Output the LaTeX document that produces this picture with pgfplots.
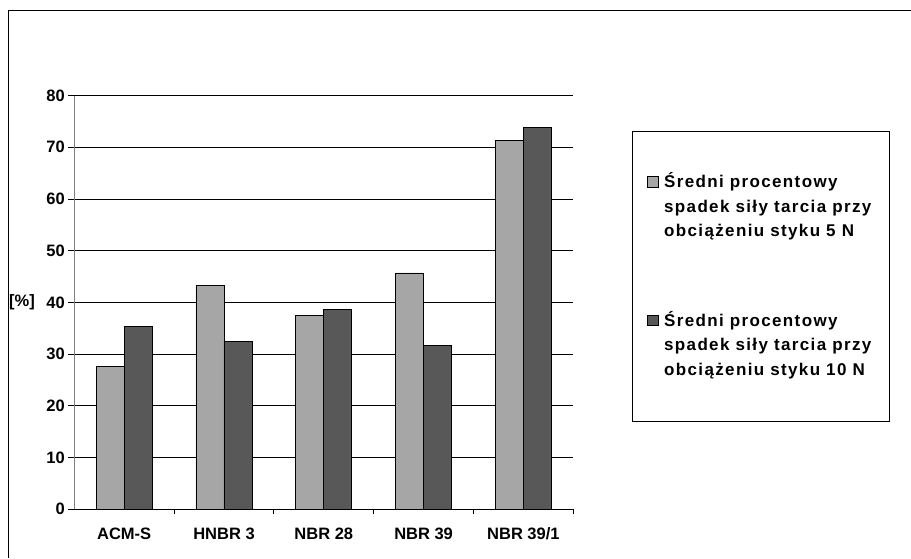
\documentclass[border=0pt]{standalone}
\usepackage{pgfplots}
\pgfplotsset{compat=1.18}
\usepackage{fontspec}
\setmainfont{Liberation Sans}
\newfontfamily\legendfont[LetterSpace=8.0]{Liberation Sans}

\definecolor{barlight}{HTML}{A6A6A6}
\definecolor{bardark}{HTML}{585858}

\pgfplotstableread{
idx five ten
0 27.7 35.3
1 43.3 32.4
2 37.4 38.6
3 45.7 31.6
4 71.3 73.9
}\friction

\newcommand{\entrytext}[1]{\makebox[215pt][l]{\begin{tabular}[t]{@{}l@{}}#1\end{tabular}}}

\begin{document}
\begin{tikzpicture}[x=1pt,y=1pt]
\path[use as bounding box] (0,0) rectangle (911,558);
% chart area frame
\draw[line width=1pt] (8,0) -- (8,547.5) -- (911,547.5);
\begin{axis}[
  at={(74.3pt,48.7pt)}, anchor=south west,
  scale only axis, width=499pt, height=413.7pt,
  xmin=-0.5, xmax=4.5, ymin=0, ymax=80,
  ybar=0pt, bar width=28pt,
  ytick={0,10,...,80},
  xtick={0,...,4},
  xticklabels={ACM-S,HNBR 3,NBR 28,NBR 39,NBR 39/1},
  minor xtick={0.5,1.5,2.5,3.5,4.5},
  axis x line*=bottom, axis y line*=left,
  axis line style={-},
  x axis line style={black, line width=0.9pt},
  y axis line style={gray, line width=0.9pt},
  ymajorgrids, grid style={black, line width=0.8pt},
  tick align=outside,
  major tick length=6pt, minor tick length=5pt,
  major x tick style={draw=none},
  minor x tick style={black, line width=0.8pt},
  ytick style={black, line width=0.8pt},
  /pgf/number format/assume math mode=true,
  tick label style={font=\bfseries\fontsize{16.5}{19}\selectfont},
  xticklabel style={yshift=-9pt},
  ylabel={[\%]},
  every axis y label/.style={at={(axis description cs:0,0.5)}, anchor=east,
    xshift=-36pt, font=\bfseries\fontsize{16.5}{19}\selectfont},
  legend style={
    at={(1.117,0.914)}, anchor=north west,
    draw=black, line width=0.8pt,
    inner xsep=10pt, inner ysep=39pt,
    column sep=5.3pt, row sep=64.8pt,
    cells={anchor=base west},
    nodes={inner sep=0pt, text depth=},
    font=\legendfont\bfseries\fontsize{17}{24.5}\selectfont,
  },
  legend image code/.code={
    \path (0pt,0pt);
    \draw[#1, line width=0.7pt] (5pt,0.5pt) rectangle (16pt,11pt);
  },
]
\addplot[fill=barlight, draw=black, line width=0.8pt] table[x=idx, y=five] {\friction};
\addlegendentry{\entrytext{Średni procentowy\\spadek siły tarcia przy\\obciążeniu styku 5 N}}
\addplot[fill=bardark, draw=black, line width=0.8pt] table[x=idx, y=ten] {\friction};
\addlegendentry{\entrytext{Średni procentowy\\spadek siły tarcia przy\\obciążeniu styku 10 N}}
\end{axis}
\end{tikzpicture}
\end{document}
